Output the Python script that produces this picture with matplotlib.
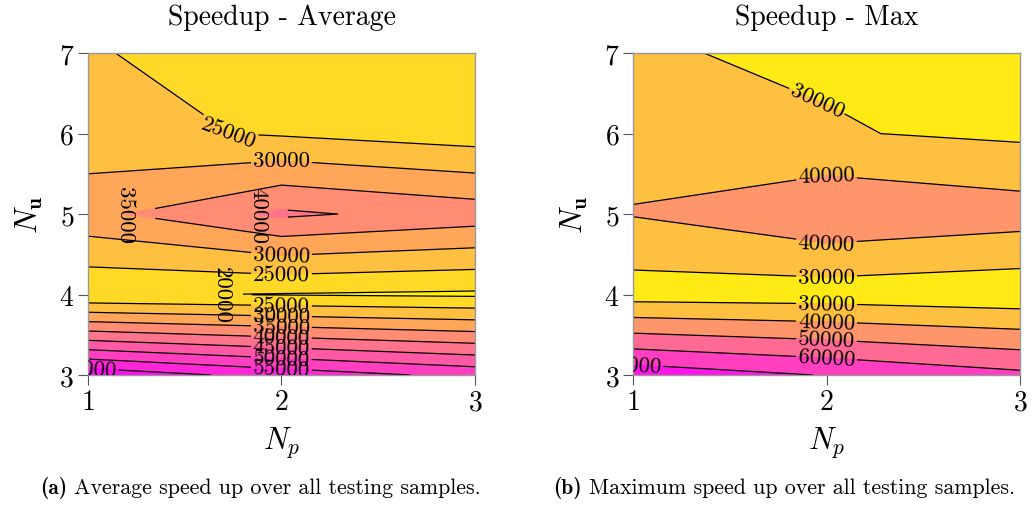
import numpy as np
import matplotlib
matplotlib.use("Agg")
import matplotlib.pyplot as plt

# ---- data ----
N_p = [1, 2, 3]
N_u = [3, 4, 5, 6, 7]
# rows: N_u = 3..7, columns: N_p = 1..3
speedup_avg = [
    [63500, 58000, 53500],
    [20500, 19750, 19200],
    [33600, 40900, 37800],
    [26400, 24500, 22500],
    [25500, 22000, 21000],
]
speedup_max = [
    [76600, 69500, 62300],
    [25400, 24900, 23000],
    [40500, 48600, 44700],
    [36300, 30700, 28200],
    [30700, 28800, 27000],
]
levels_avg = list(range(15000, 70000, 5000))
levels_max = list(range(20000, 90000, 10000))
titles = ["Speedup - Average", "Speedup - Max"]
cap_tags = ["(a)", "(b)"]
cap_texts = ["Average speed up over all testing samples.",
             "Maximum speed up over all testing samples."]

plt.rcParams["font.family"] = ["cmr10", "DejaVu Serif"]
plt.rcParams["mathtext.fontset"] = "cm"
plt.rcParams["axes.unicode_minus"] = False
plt.rcParams["axes.formatter.use_mathtext"] = True

fig = plt.figure(figsize=(10.33, 5.06), dpi=100)
ax_pos = [[0.0852, 0.257, 0.3746, 0.636], [0.6128, 0.257, 0.3746, 0.636]]

label_spots = [
    [(1.75, 6.1), (2.0, 5.65), (1.19, 5.0), (1.87, 5.0), (2.0, 4.48), (2.0, 4.25),
     (1.69, 4.0), (2.0, 3.87), (2.0, 3.76), (2.0, 3.64), (2.0, 3.52), (2.0, 3.4),
     (2.0, 3.28), (2.0, 3.1), (1.0, 3.07)],
    [(1.95, 6.4), (2.0, 5.47), (2.0, 4.65), (2.0, 4.21), (2.0, 3.88), (2.0, 3.67),
     (2.0, 3.45), (2.0, 3.21), (1.0, 3.12)],
]
vertical_labels = [[2, 3, 6], []]

X, Y = np.meshgrid(N_p, N_u)
for i, (Z, lev) in enumerate([(speedup_avg, levels_avg), (speedup_max, levels_max)]):
    Z = np.array(Z, dtype=float)
    ax = fig.add_axes(ax_pos[i])
    ax.contourf(X, Y, Z, levels=lev, cmap="spring_r")
    cs = ax.contour(X, Y, Z, levels=lev, colors="black", linewidths=0.9)
    ax.clabel(cs, inline=True, fontsize=16.5, fmt="%d",
              manual=label_spots[i], inline_spacing=2)
    for k in vertical_labels[i]:
        if k < len(cs.labelTexts):
            cs.labelTexts[k].set_rotation(270)
    ax.set_xlim(1, 3)
    ax.set_ylim(3, 7)
    ax.set_xticks(N_p)
    ax.set_yticks(N_u)
    ax.tick_params(axis="both", labelsize=20, length=7, width=0.8,
                   color="#555555", direction="out", top=False, right=False,
                   pad=3)
    for s in ax.spines.values():
        s.set_color("#999999")
        s.set_linewidth(1.0)
    ax.set_title(titles[i], fontsize=20, pad=21)
    ax.set_xlabel(r"$N_p$", fontsize=22, labelpad=6)
    ax.set_ylabel(r"$N_{\mathbf{u}}$", fontsize=22, labelpad=10)

fig.canvas.draw()
renderer = fig.canvas.get_renderer()
cap_x = [40 / 1033, 553 / 1033]
for i in range(2):
    t1 = fig.text(cap_x[i], 0.035, cap_tags[i], ha="left", va="center",
                  fontsize=15.5, family="cmb10")
    bb = t1.get_window_extent(renderer)
    fig.text((bb.x1 + 7) / fig.bbox.width, 0.035, cap_texts[i], ha="left",
             va="center", fontsize=15.8)

fig.savefig("out.png", dpi=100)
